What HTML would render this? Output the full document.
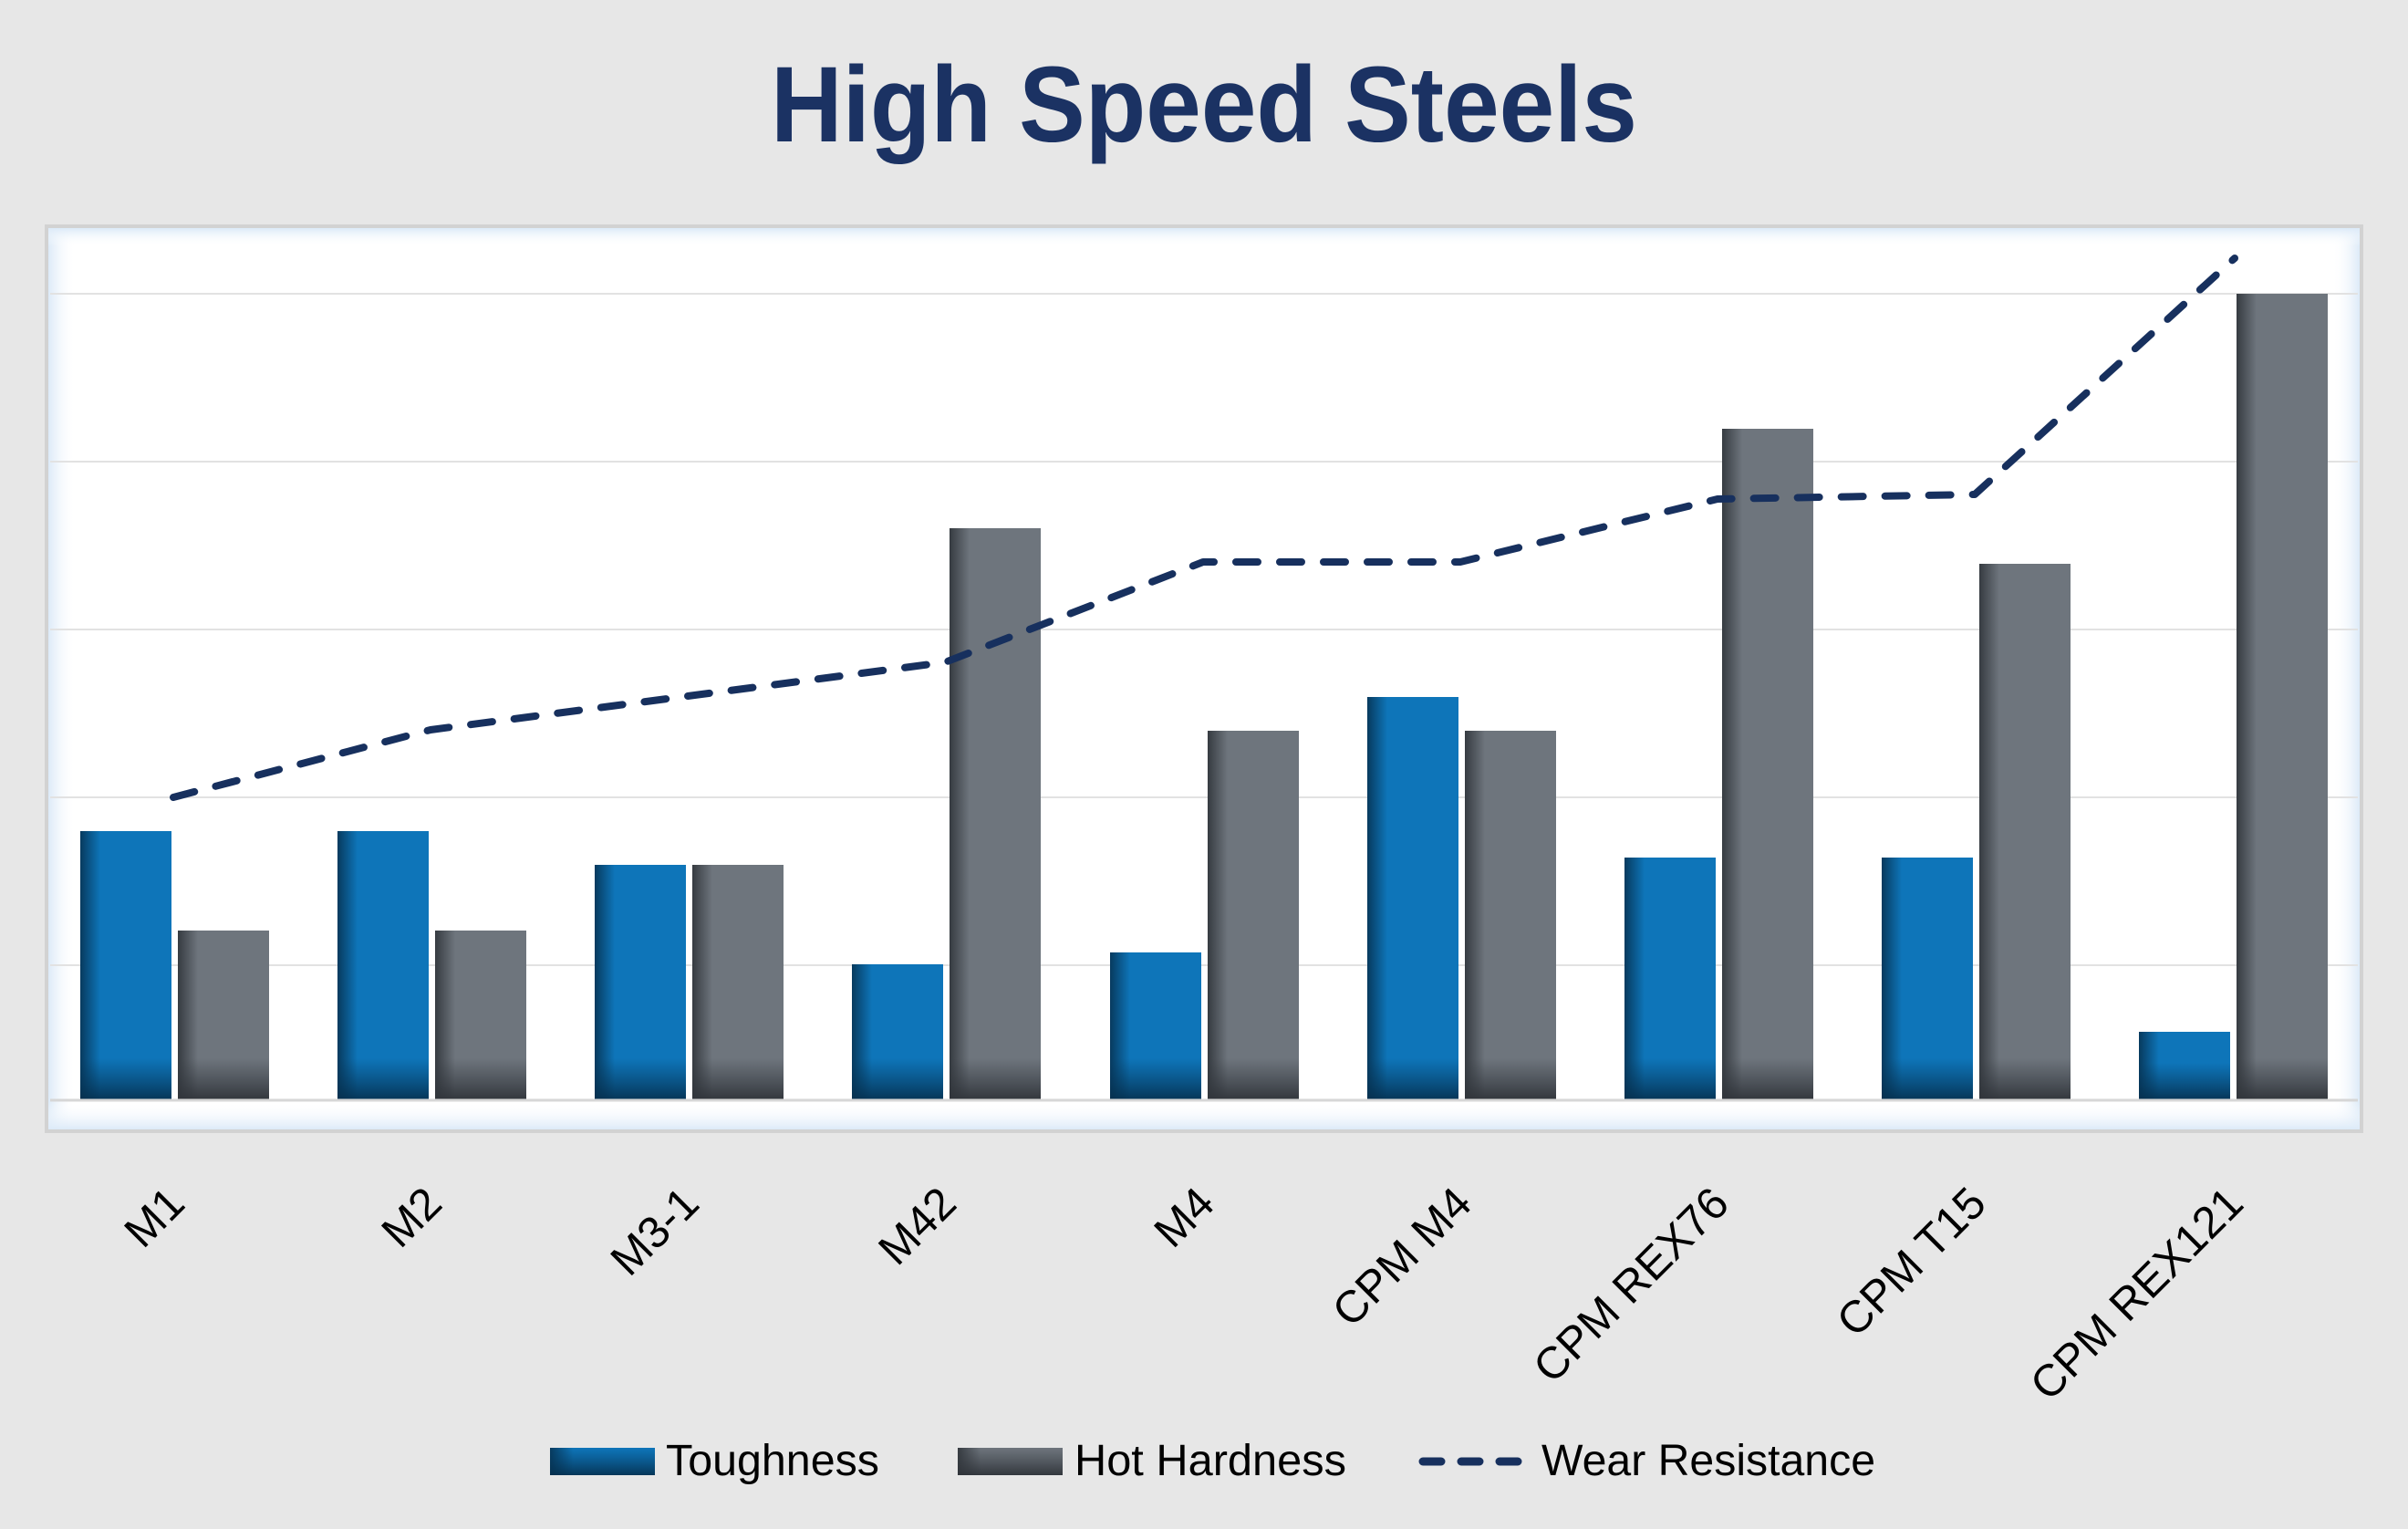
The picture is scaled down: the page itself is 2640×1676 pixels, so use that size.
<!DOCTYPE html>
<html><head><meta charset="utf-8"><style>
html,body{margin:0;padding:0;background:#e7e7e7;}
svg{display:block;}
</style></head><body>
<svg width="2640" height="1676" viewBox="0 0 2640 1676" xmlns="http://www.w3.org/2000/svg">
<defs>
<linearGradient id="tb" x1="0" x2="1" y1="0" y2="0">
<stop offset="0" stop-color="#073a5e"/><stop offset="0.22" stop-color="#0e75b9"/><stop offset="1" stop-color="#0e75b9"/>
</linearGradient>
<linearGradient id="tbv" x1="0" x2="0" y1="0" y2="1">
<stop offset="0" stop-color="#073a5e" stop-opacity="0"/><stop offset="1" stop-color="#052f4d" stop-opacity="0.9"/>
</linearGradient>
<linearGradient id="hb" x1="0" x2="1" y1="0" y2="0">
<stop offset="0" stop-color="#363b41"/><stop offset="0.22" stop-color="#6e757d"/><stop offset="1" stop-color="#6e757d"/>
</linearGradient>
<linearGradient id="hbv" x1="0" x2="0" y1="0" y2="1">
<stop offset="0" stop-color="#363b41" stop-opacity="0"/><stop offset="1" stop-color="#30343a" stop-opacity="0.95"/>
</linearGradient>
<linearGradient id="glowL" x1="0" x2="1"><stop offset="0" stop-color="#dceaf8"/><stop offset="1" stop-color="#fff" stop-opacity="0"/></linearGradient>
<linearGradient id="glowR" x1="1" x2="0"><stop offset="0" stop-color="#dceaf8"/><stop offset="1" stop-color="#fff" stop-opacity="0"/></linearGradient>
<linearGradient id="glowT" x1="0" x2="0" y1="0" y2="1"><stop offset="0" stop-color="#dceaf8"/><stop offset="1" stop-color="#fff" stop-opacity="0"/></linearGradient>
<linearGradient id="glowB" x1="0" x2="0" y1="1" y2="0"><stop offset="0" stop-color="#dceaf8"/><stop offset="1" stop-color="#fff" stop-opacity="0"/></linearGradient>
</defs>

<text x="1320" y="155" text-anchor="middle" font-family="Liberation Sans Narrow, Liberation Sans, sans-serif" font-weight="bold" font-size="118" fill="#1b3263" textLength="950" lengthAdjust="spacingAndGlyphs">High Speed Steels</text>

<rect x="49" y="246" width="2542" height="996" fill="#d2d2d2"/>
<rect x="53" y="250" width="2534" height="988" fill="#ffffff"/>
<rect x="53" y="250" width="30" height="988" fill="url(#glowL)"/>
<rect x="2557" y="250" width="30" height="988" fill="url(#glowR)"/>
<rect x="53" y="250" width="2534" height="20" fill="url(#glowT)"/>
<rect x="53" y="1208" width="2534" height="30" fill="url(#glowB)"/>

<g stroke="#e2e2e2" stroke-width="2">
<line x1="55" x2="2585" y1="322" y2="322"/>
<line x1="55" x2="2585" y1="506" y2="506"/>
<line x1="55" x2="2585" y1="690" y2="690"/>
<line x1="55" x2="2585" y1="874" y2="874"/>
<line x1="55" x2="2585" y1="1058" y2="1058"/>
</g>

<g id="bars">
<rect x="88" y="911" width="100" height="294" fill="url(#tb)"/><rect x="88" y="1160" width="100" height="45" fill="url(#tbv)"/>
<rect x="370" y="911" width="100" height="294" fill="url(#tb)"/><rect x="370" y="1160" width="100" height="45" fill="url(#tbv)"/>
<rect x="652" y="948" width="100" height="257" fill="url(#tb)"/><rect x="652" y="1160" width="100" height="45" fill="url(#tbv)"/>
<rect x="934" y="1057" width="100" height="148" fill="url(#tb)"/><rect x="934" y="1160" width="100" height="45" fill="url(#tbv)"/>
<rect x="1217" y="1044" width="100" height="161" fill="url(#tb)"/><rect x="1217" y="1160" width="100" height="45" fill="url(#tbv)"/>
<rect x="1499" y="764" width="100" height="441" fill="url(#tb)"/><rect x="1499" y="1160" width="100" height="45" fill="url(#tbv)"/>
<rect x="1781" y="940" width="100" height="265" fill="url(#tb)"/><rect x="1781" y="1160" width="100" height="45" fill="url(#tbv)"/>
<rect x="2063" y="940" width="100" height="265" fill="url(#tb)"/><rect x="2063" y="1160" width="100" height="45" fill="url(#tbv)"/>
<rect x="2345" y="1131" width="100" height="74" fill="url(#tb)"/><rect x="2345" y="1165" width="100" height="40" fill="url(#tbv)"/>
<rect x="195" y="1020" width="100" height="185" fill="url(#hb)"/><rect x="195" y="1160" width="100" height="45" fill="url(#hbv)"/>
<rect x="477" y="1020" width="100" height="185" fill="url(#hb)"/><rect x="477" y="1160" width="100" height="45" fill="url(#hbv)"/>
<rect x="759" y="948" width="100" height="257" fill="url(#hb)"/><rect x="759" y="1160" width="100" height="45" fill="url(#hbv)"/>
<rect x="1041" y="579" width="100" height="626" fill="url(#hb)"/><rect x="1041" y="1160" width="100" height="45" fill="url(#hbv)"/>
<rect x="1324" y="801" width="100" height="404" fill="url(#hb)"/><rect x="1324" y="1160" width="100" height="45" fill="url(#hbv)"/>
<rect x="1606" y="801" width="100" height="404" fill="url(#hb)"/><rect x="1606" y="1160" width="100" height="45" fill="url(#hbv)"/>
<rect x="1888" y="470" width="100" height="735" fill="url(#hb)"/><rect x="1888" y="1160" width="100" height="45" fill="url(#hbv)"/>
<rect x="2170" y="618" width="100" height="587" fill="url(#hb)"/><rect x="2170" y="1160" width="100" height="45" fill="url(#hbv)"/>
<rect x="2452" y="322" width="100" height="883" fill="url(#hb)"/><rect x="2452" y="1160" width="100" height="45" fill="url(#hbv)"/>
</g>
<line x1="55" x2="2585" y1="1206" y2="1206" stroke="#d6d6d6" stroke-width="3"/>

<polyline points="190,874 472,800 754,763 1036,726 1319,616 1601,616 1883,547 2165,542 2450,283" fill="none" stroke="#17305e" stroke-width="8" stroke-linecap="round" stroke-linejoin="round" stroke-dasharray="24 24"/>

<g font-family="Liberation Sans Narrow, Liberation Sans, sans-serif" font-size="49" fill="#000" text-anchor="end">
<text transform="translate(205,1322) rotate(-45)">M1</text>
<text transform="translate(487,1322) rotate(-45)">M2</text>
<text transform="translate(769,1322) rotate(-45)">M3-1</text>
<text transform="translate(1051,1322) rotate(-45)">M42</text>
<text transform="translate(1334,1322) rotate(-45)">M4</text>
<text transform="translate(1616,1322) rotate(-45)">CPM M4</text>
<text transform="translate(1898,1322) rotate(-45)">CPM REX76</text>
<text transform="translate(2180,1322) rotate(-45)">CPM T15</text>
<text transform="translate(2462,1322) rotate(-45)">CPM REX121</text>
</g>

<rect x="603" y="1587" width="115" height="30" fill="url(#tb)"/><rect x="603" y="1587" width="115" height="30" fill="url(#tbv)"/>
<rect x="1050" y="1587" width="115" height="30" fill="url(#hb)"/><rect x="1050" y="1587" width="115" height="30" fill="url(#hbv)"/>
<line x1="1560" x2="1664" y1="1602" y2="1602" stroke="#17305e" stroke-width="9" stroke-linecap="round" stroke-dasharray="20 22"/>
<g font-family="Liberation Sans Narrow, Liberation Sans, sans-serif" font-size="48" fill="#000">
<text x="730" y="1617" textLength="234" lengthAdjust="spacingAndGlyphs">Toughness</text>
<text x="1178" y="1617" textLength="298" lengthAdjust="spacingAndGlyphs">Hot Hardness</text>
<text x="1690" y="1617" textLength="366" lengthAdjust="spacingAndGlyphs">Wear Resistance</text>
</g>
</svg>
</body></html>
